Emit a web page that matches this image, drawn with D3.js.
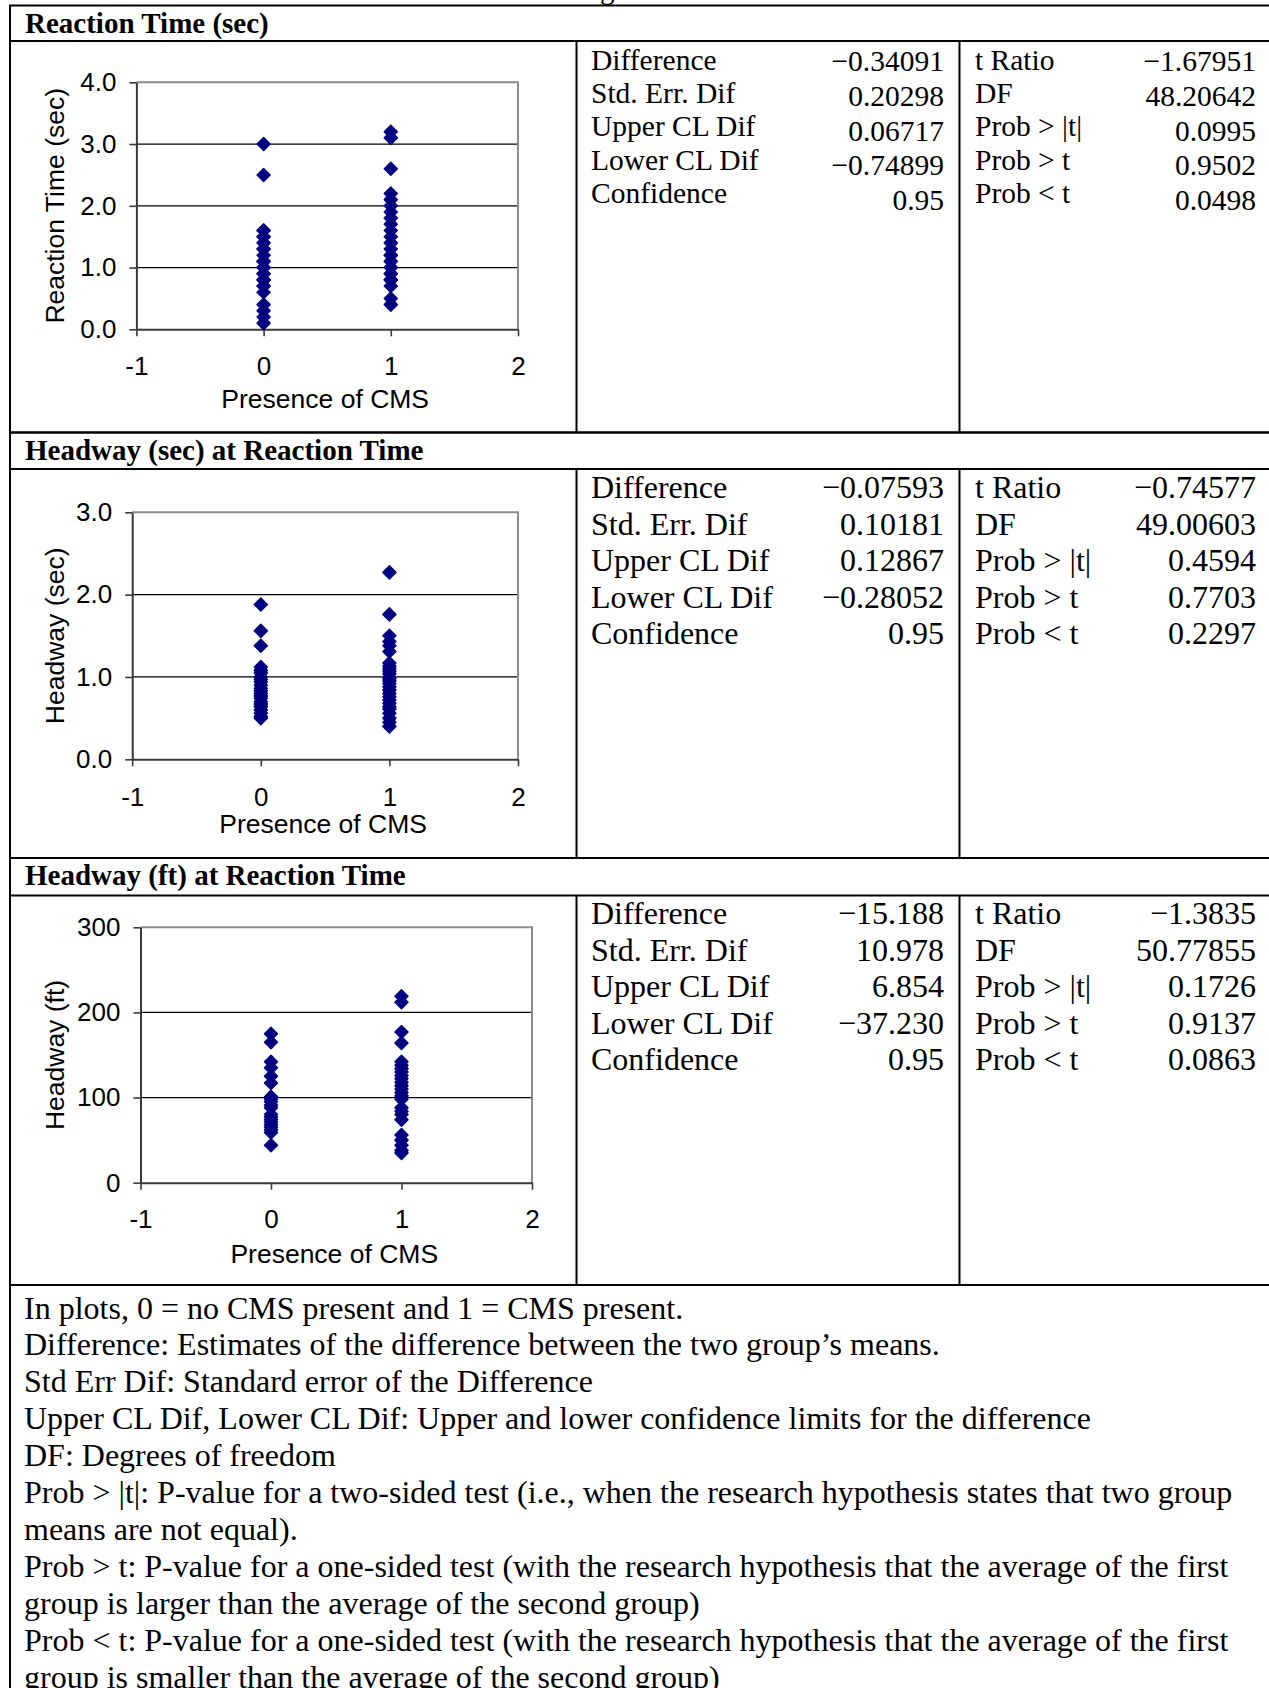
<!DOCTYPE html>
<html>
<head>
<meta charset="utf-8">
<script src="https://cdn.jsdelivr.net/npm/d3@7"></script>
<style>
  html, body { margin: 0; padding: 0; background: #fff; }
  svg { display: block; }
</style>
</head>
<body>
<svg id="chart" width="1269" height="1688"></svg>
<script>
// ---- Data -------------------------------------------------------------
// x position of each group: 0 = no CMS present, 1 = CMS present
const cmsGroups = [0, 1];
const xTickValues = [-1, 0, 1, 2];

// Reaction time (sec)
const reactionNoCms = [3.0, 2.5, 1.6, 1.6, 1.5, 1.5, 1.4, 1.3, 1.3, 1.2, 1.1, 1.1, 1.0, 1.0,
                       0.9, 0.9, 0.8, 0.8, 0.7, 0.7, 0.6, 0.4, 0.3, 0.2, 0.1];
const reactionCms   = [3.2, 3.1, 2.6, 2.2, 2.1, 2.0, 1.9, 1.8, 1.7, 1.6, 1.5, 1.4, 1.3, 1.2,
                       1.2, 1.1, 1.0, 1.0, 0.9, 0.9, 0.8, 0.8, 0.7, 0.5, 0.4];
const reactionTicks = [0, 1, 2, 3, 4];

// Headway (sec) at reaction time
const headwaySecNoCms = [1.88, 1.56, 1.38, 1.12, 1.08, 1.05, 1.0, 0.97, 0.94, 0.9, 0.86,
                         0.83, 0.8, 0.77, 0.74, 0.7, 0.67, 0.64, 0.6, 0.56, 0.52, 0.5];
const headwaySecCms   = [2.27, 1.76, 1.5, 1.43, 1.38, 1.31, 1.17, 1.13, 1.1, 1.07, 1.04, 1.0,
                         0.98, 0.95, 0.92, 0.88, 0.84, 0.8, 0.76, 0.72, 0.68, 0.64, 0.61,
                         0.56, 0.5, 0.45, 0.4];
const headwaySecTicks = [0, 1, 2, 3];

// Headway (ft) at reaction time
const headwayFtNoCms = [175, 165, 142, 135, 125, 117, 101, 98, 95, 91, 88, 80, 77, 74, 71,
                        68, 65, 62, 59, 44];
const headwayFtCms   = [219, 212, 177, 164, 142, 138, 134, 130, 126, 122, 118, 114, 110, 106,
                        102, 98, 88, 84, 80, 74, 56, 50, 44, 38, 35];
const headwayFtTicks = [0, 100, 200, 300];

// t-test summaries
const statLabelsLeft  = ["Difference", "Std. Err. Dif", "Upper CL Dif", "Lower CL Dif", "Confidence"];
const statLabelsRight = ["t Ratio", "DF", "Prob > |t|", "Prob > t", "Prob < t"];

const reactionStatsLeft    = ["\u22120.34091", "0.20298", "0.06717", "\u22120.74899", "0.95"];
const reactionStatsRight   = ["\u22121.67951", "48.20642", "0.0995", "0.9502", "0.0498"];
const headwaySecStatsLeft  = ["\u22120.07593", "0.10181", "0.12867", "\u22120.28052", "0.95"];
const headwaySecStatsRight = ["\u22120.74577", "49.00603", "0.4594", "0.7703", "0.2297"];
const headwayFtStatsLeft   = ["\u221215.188", "10.978", "6.854", "\u221237.230", "0.95"];
const headwayFtStatsRight  = ["\u22121.3835", "50.77855", "0.1726", "0.9137", "0.0863"];

const sectionTitles = ["Reaction Time (sec)", "Headway (sec) at Reaction Time", "Headway (ft) at Reaction Time"];
const yAxisTitles   = ["Reaction Time (sec)", "Headway (sec)", "Headway (ft)"];
const xAxisTitle    = "Presence of CMS";

const notes = [
  "In plots, 0 = no CMS present and 1 = CMS present.",
  "Difference: Estimates of the difference between the two group\u2019s means.",
  "Std Err Dif: Standard error of the Difference",
  "Upper CL Dif, Lower CL Dif: Upper and lower confidence limits for the difference",
  "DF: Degrees of freedom",
  "Prob > |t|: P-value for a two-sided test (i.e., when the research hypothesis states that two group",
  "means are not equal).",
  "Prob > t: P-value for a one-sided test (with the research hypothesis that the average of the first",
  "group is larger than the average of the second group)",
  "Prob < t: P-value for a one-sided test (with the research hypothesis that the average of the first",
  "group is smaller than the average of the second group)"
];

// ---- Layout ------------------------------------------------------------
const sections = [
  { noCms: reactionNoCms, cms: reactionCms, ticks: reactionTicks, fmt: d3.format(".1f"),
    left: reactionStatsLeft, right: reactionStatsRight,
    top: 5.5, head: 41, bottom: 432.5,
    plot: { x0: 136.4, x1: 518, y0: 329.3, y1: 82.3 },
    xTickBase: 375, xTitleBase: 408,
    font: 29.5, labelBase: 69.5, labelStep: 33.4, valueBase: 71, valueStep: 34.8 },
  { noCms: headwaySecNoCms, cms: headwaySecCms, ticks: headwaySecTicks, fmt: d3.format(".1f"),
    left: headwaySecStatsLeft, right: headwaySecStatsRight,
    top: 432.5, head: 469, bottom: 858,
    plot: { x0: 132.2, x1: 518, y0: 759.3, y1: 512.3 },
    xTickBase: 806, xTitleBase: 833,
    font: 32, labelBase: 498, labelStep: 36.6, valueBase: 498, valueStep: 36.6 },
  { noCms: headwayFtNoCms, cms: headwayFtCms, ticks: headwayFtTicks, fmt: d3.format("d"),
    left: headwayFtStatsLeft, right: headwayFtStatsRight,
    top: 858, head: 895.5, bottom: 1285,
    plot: { x0: 140.5, x1: 532, y0: 1182.7, y1: 927.3 },
    xTickBase: 1228, xTitleBase: 1263,
    font: 32, labelBase: 924, labelStep: 36.6, valueBase: 924, valueStep: 36.6 }
];

const TABLE_LEFT = 10, TABLE_RIGHT = 1280;
const DIV1 = 576.5, DIV2 = 959.5;
const SERIF = "'Liberation Serif', 'Times New Roman', serif";
const SANS = "'Liberation Sans', Arial, sans-serif";
const MARK = "#000080";
const MARK_R = 6.5;   // half-diagonal of the diamond marker

const svg = d3.select("#chart");

// Square diamond marker centred on the origin
function diamondPath(r) {
  const ctx = d3.path();
  ctx.moveTo(0, -r); ctx.lineTo(r, 0); ctx.lineTo(0, r); ctx.lineTo(-r, 0); ctx.closePath();
  return ctx.toString();
}
const diamond = diamondPath(MARK_R);

// Clipped descender of the caption line sitting above the table
svg.append("text").attr("x", 600).attr("y", -1)
  .attr("font-family", SERIF).attr("font-size", 29).text("g");

const lines = svg.append("g").attr("stroke", "#000").attr("stroke-width", 2);

sections.forEach((s, i) => {
  // ---- table frame
  [s.top, s.head, s.bottom].forEach(yy => {
    lines.append("line").attr("x1", TABLE_LEFT - 1).attr("x2", TABLE_RIGHT).attr("y1", yy).attr("y2", yy);
  });
  lines.append("line").attr("x1", DIV1).attr("x2", DIV1).attr("y1", s.head).attr("y2", s.bottom);
  lines.append("line").attr("x1", DIV2).attr("x2", DIV2).attr("y1", s.head).attr("y2", s.bottom);

  svg.append("text").attr("x", 25).attr("y", s.top + 27)
    .attr("font-family", SERIF).attr("font-weight", "bold").attr("font-size", 29)
    .text(sectionTitles[i]);

  // ---- statistics columns
  const tg = svg.append("g").attr("font-family", SERIF).attr("font-size", s.font).attr("fill", "#000");
  statLabelsLeft.forEach((lab, k) => {
    tg.append("text").attr("x", 591).attr("y", s.labelBase + k * s.labelStep).text(lab);
    tg.append("text").attr("x", 944).attr("y", s.valueBase + k * s.valueStep)
      .attr("text-anchor", "end").text(s.left[k]);
  });
  statLabelsRight.forEach((lab, k) => {
    tg.append("text").attr("x", 975).attr("y", s.labelBase + k * s.labelStep).text(lab);
    tg.append("text").attr("x", 1256).attr("y", s.valueBase + k * s.valueStep)
      .attr("text-anchor", "end").text(s.right[k]);
  });

  // ---- scatter plot
  const p = s.plot;
  const x = d3.scaleLinear().domain([-1, 2]).range([p.x0, p.x1]);
  const y = d3.scaleLinear().domain([0, d3.max(s.ticks)]).range([p.y0, p.y1]);
  const g = svg.append("g");

  // horizontal gridlines at interior ticks
  g.append("g").selectAll("line").data(s.ticks.slice(1, -1)).join("line")
    .attr("x1", p.x0).attr("x2", p.x1)
    .attr("y1", d => y(d)).attr("y2", d => y(d))
    .attr("stroke", "#000").attr("stroke-width", 1.2);

  // plot-area border (top and right)
  g.append("path")
    .attr("d", `M${p.x0},${p.y1}H${p.x1}V${p.y0}`)
    .attr("fill", "none").attr("stroke", "#8c8c8c").attr("stroke-width", 2);

  // y axis
  const yAxis = g.append("g").attr("transform", `translate(${p.x0},0)`)
    .call(d3.axisLeft(y).tickValues(s.ticks).tickFormat(s.fmt).tickSize(7).tickSizeOuter(0).tickPadding(13));
  // x axis
  const xAxis = g.append("g").attr("transform", `translate(0,${p.y0})`)
    .call(d3.axisBottom(x).tickValues(xTickValues).tickFormat(d3.format("d")).tickSize(7).tickSizeOuter(0));
  [yAxis, xAxis].forEach(a => {
    a.select(".domain").attr("stroke", "#3a3a3a").attr("stroke-width", 2);
    a.selectAll(".tick line").attr("stroke", "#3a3a3a").attr("stroke-width", 1.6);
    a.selectAll(".tick text").attr("font-family", SANS).attr("font-size", 26).attr("fill", "#000");
  });
  xAxis.selectAll(".tick text").attr("dy", null).attr("y", s.xTickBase - p.y0)
    .text(d => d < 0 ? "-" + Math.abs(d) : String(d));

  // axis titles
  g.append("text").attr("x", (p.x0 + p.x1) / 2 - 2).attr("y", s.xTitleBase)
    .attr("text-anchor", "middle").attr("font-family", SANS).attr("font-size", 26.5)
    .text(xAxisTitle);
  g.append("text")
    .attr("transform", `translate(63.5,${(p.y0 + p.y1) / 2}) rotate(-90)`)
    .attr("text-anchor", "middle").attr("font-family", SANS).attr("font-size", 26.5)
    .text(yAxisTitles[i]);

  // points (filled diamonds with a matching outline)
  const pts = [
    ...s.noCms.map(v => ({ grp: cmsGroups[0], v })),
    ...s.cms.map(v => ({ grp: cmsGroups[1], v }))
  ];
  g.append("g").selectAll("path").data(pts).join("path")
    .attr("d", diamond)
    .attr("transform", d => `translate(${x(d.grp)},${y(d.v)})`)
    .attr("fill", MARK)
    .attr("stroke", MARK).attr("stroke-width", 1.5).attr("stroke-linejoin", "round");
});

// left border running down through the notes cell
lines.append("line").attr("x1", TABLE_LEFT).attr("x2", TABLE_LEFT).attr("y1", 5.5).attr("y2", 1688);

// notes cell
const notesTop = sections[2].bottom;
svg.append("g").attr("font-family", SERIF).attr("font-size", 32)
  .selectAll("text").data(notes).join("text")
  .attr("x", 24).attr("y", (d, k) => notesTop + 33.5 + k * 36.9)
  .text(d => d);
</script>
</body>
</html>
